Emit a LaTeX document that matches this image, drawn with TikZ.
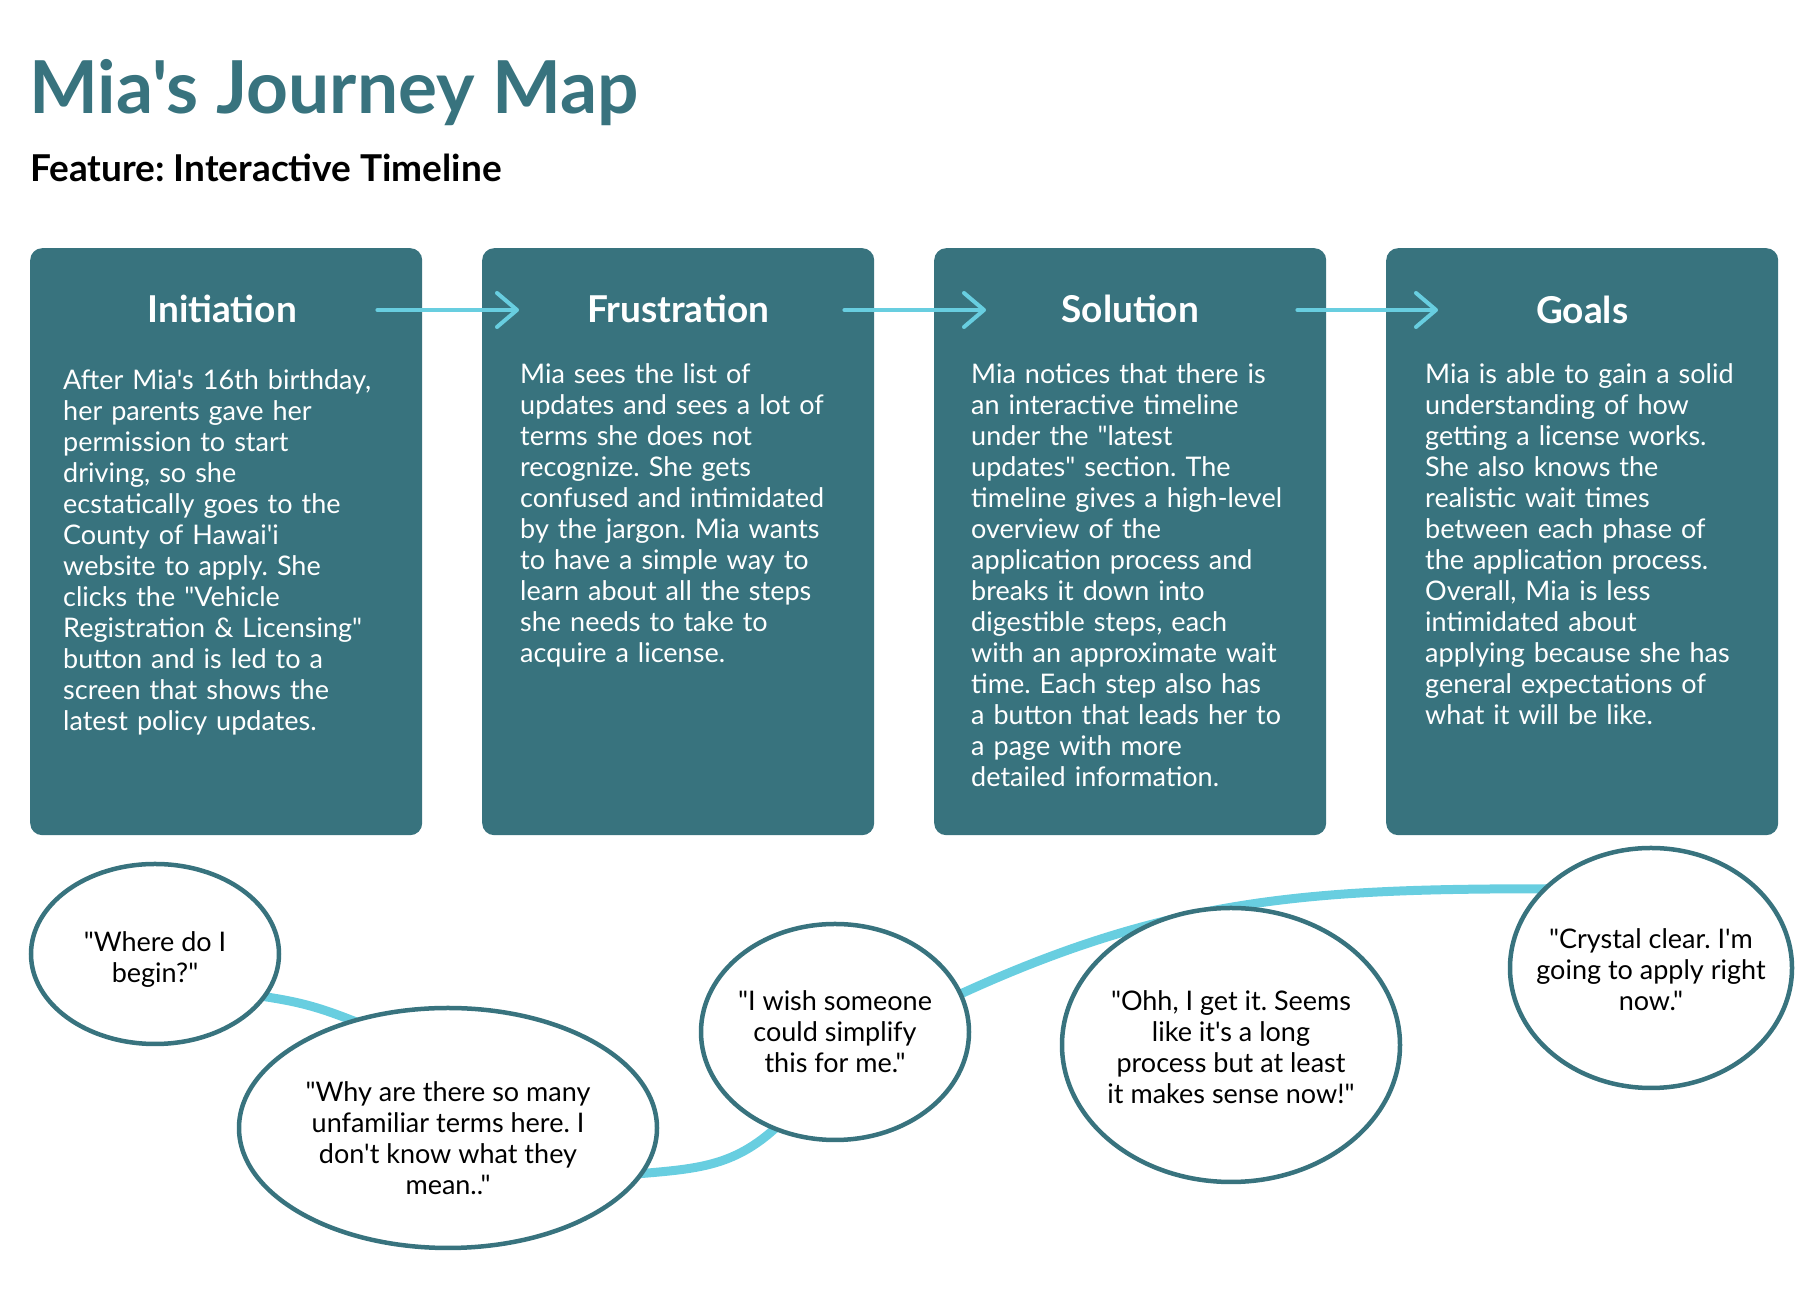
\documentclass[tikz,border=0pt]{standalone}
\usepackage{fontspec}
\setmainfont{Lato}[Ligatures=TeXOff]
\usetikzlibrary{arrows.meta,shapes.geometric,calc}
\pgfdeclarelayer{background}
\pgfsetlayers{background,main}
\definecolor{jteal}{HTML}{38737E}
\definecolor{jsky}{HTML}{68CEE0}
\frenchspacing
\begin{document}
\begin{tikzpicture}[x=1pt,y=1pt,
  phase/.style={fill=jteal, rounded corners=12pt, minimum width=392pt,
    minimum height=587pt, anchor=north west, inner sep=0pt},
  phasetitle/.style={text=white, font=\bfseries\fontsize{37}{40}\selectfont,
    anchor=base, inner sep=0pt},
  phasebody/.style={text=white, font=\fontsize{27}{31}\selectfont,
    anchor=base west, align=left, text width=370pt, inner sep=0pt},
  flow/.style={draw=jsky, line width=4pt, line cap=round,
    -{Straight Barb[length=20pt,width=34pt,round]}},
  bubble/.style={ellipse, draw=jteal, line width=4.5pt, fill=white, inner sep=0pt},
  quote/.style={font=\fontsize{27}{31}\selectfont, align=center, inner sep=0pt},
  trail/.style={draw=jsky, line width=9pt, shorten <=-14pt, shorten >=-14pt}
]
\useasboundingbox (0,0) rectangle (1808,1308);

% heading
\node[anchor=base west, text=jteal, font=\bfseries\fontsize{73}{80}\selectfont,
  inner sep=0pt] (title) at (29,1194) {Mia's Journey Map};
\node[anchor=base west, font=\bfseries\fontsize{37}{40}\selectfont,
  inner sep=0pt] (feature) at (30,1126) {Feature: Interactive Timeline};

% phase cards
\node[phase] (b1) at (30,1060) {};
\node[phase] (b2) at (482,1060) {};
\node[phase] (b3) at (934,1060) {};
\node[phase] (b4) at (1386,1060) {};

\node[phasetitle] (h1) at ($(b1.north)+(-4,-75)$) {Initiation};
\node[phasetitle] (h2) at ($(b2.north)+(0,-75)$) {Frustration};
\node[phasetitle] (h3) at ($(b3.north)+(0,-75)$) {Solution};
\node[phasetitle] (h4) at ($(b4.north)+(0,-76)$) {Goals};

\draw[flow] ($(b1.north east)+(-45,-62)$) -- ($(b2.north west)+(37,-62)$);
\draw[flow] ($(b2.north east)+(-30,-62)$) -- ($(b3.north west)+(52,-62)$);
\draw[flow] ($(b3.north east)+(-29,-62)$) -- ($(b4.north west)+(52,-62)$);

\node[phasebody] (t1) at ($(b1.north west)+(33,-142)$) {After Mia's 16th birthday,\\
her parents gave her\\
permission to start\\
driving, so she\\
ecstatically goes to the\\
County of Hawai'i\\
website to apply. She\\
clicks the "Vehicle\\
Registration \& Licensing"\\
button and is led to a\\
screen that shows the\\
latest policy updates.};

\node[phasebody] (t2) at ($(b2.north west)+(38,-136)$) {Mia sees the list of\\
updates and sees a lot of\\
terms she does not\\
recognize. She gets\\
confused and intimidated\\
by the jargon. Mia wants\\
to have a simple way to\\
learn about all the steps\\
she needs to take to\\
acquire a license.};

\node[phasebody] (t3) at ($(b3.north west)+(37,-136)$) {Mia notices that there is\\
an interactive timeline\\
under the "latest\\
updates" section. The\\
timeline gives a high-level\\
overview of the\\
application process and\\
breaks it down into\\
digestible steps, each\\
with an approximate wait\\
time. Each step also has\\
a button that leads her to\\
a page with more\\
detailed information.};

\node[phasebody] (t4) at ($(b4.north west)+(39,-136)$) {Mia is able to gain a solid\\
understanding of how\\
getting a license works.\\
She also knows the\\
realistic wait times\\
between each phase of\\
the application process.\\
Overall, Mia is less\\
intimidated about\\
applying because she has\\
general expectations of\\
what it will be like.};

% thought bubbles
\node[bubble, minimum width=248pt, minimum height=180pt] (e1) at (155,354) {};
\node[bubble, minimum width=418pt, minimum height=240pt] (e2) at (448,180) {};
\node[bubble, minimum width=268pt, minimum height=216pt] (e3) at (835,276) {};
\node[bubble, minimum width=338pt, minimum height=274pt] (e4) at (1231,263) {};
\node[bubble, minimum width=282pt, minimum height=240pt] (e5) at (1651,340) {};

\node[quote] (q1) at ($(e1)+(0,-6)$) {"Where do I\\begin?"};
\node[quote] (q2) at ($(e2)+(0,-10)$) {"Why are there so many\\unfamiliar terms here. I\\don't know what they\\mean.."};
\node[quote] (q3) at (e3) {"I wish someone\\could simplify\\this for me."};
\node[quote] (q4) at ($(e4)+(0,-2)$) {"Ohh, I get it. Seems\\like it's a long\\process but at least\\it makes sense now!"};
\node[quote] (q5) at ($(e5)+(0,-2)$) {"Crystal clear. I'm\\going to apply right\\now."};

% the emotional path behind the bubbles
\begin{pgfonlayer}{background}
\draw[trail] (e1.-21) to[out=-8, in=158] (e2.132);
\draw[trail] (e2.-13) to[out=5, in=225] (e3.238);
\draw[trail] (e3.17) to[out=25, in=180] (e5.144);
\end{pgfonlayer}
\end{tikzpicture}
\end{document}
